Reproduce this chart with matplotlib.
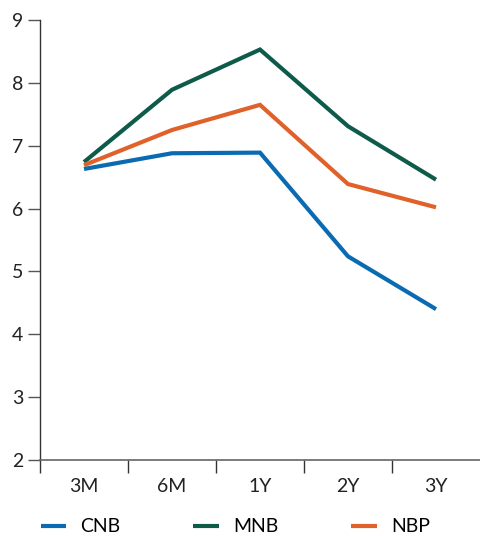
import matplotlib.pyplot as plt

plt.rcParams['font.family'] = ['Lato', 'DejaVu Sans']

tenors = ["3M", "6M", "1Y", "2Y", "3Y"]
cnb = [6.63, 6.88, 6.89, 5.24, 4.40]
mnb = [6.74, 7.89, 8.53, 7.31, 6.46]
nbp = [6.69, 7.25, 7.65, 6.39, 6.02]

colors = {"CNB": "#0a6bb2", "MNB": "#0f5b4a", "NBP": "#e0622a"}

fig = plt.figure(figsize=(4.8, 5.36), dpi=100)
ax = fig.add_axes([40 / 480, 76 / 536, 1 - 40 / 480, 440 / 536])

x = range(len(tenors))
for name, vals in [("CNB", cnb), ("MNB", mnb), ("NBP", nbp)]:
    ax.plot(x, vals, color=colors[name], lw=3, label=name,
            solid_joinstyle="miter", solid_capstyle="butt")

ax.set_ylim(2, 9)
ax.set_xlim(-0.5, len(tenors) - 0.5)
ax.set_yticks(range(2, 10))

# category labels centred, ticks drawn between categories
ax.set_xticks([i - 0.5 for i in range(len(tenors))])
ax.set_xticklabels([])
ax.set_xticks(list(x), minor=True)
ax.set_xticklabels(tenors, minor=True)
ax.tick_params(axis="x", which="minor", length=0, pad=13, labelsize=14, colors="#222222")
ax.tick_params(axis="x", which="major", length=9, width=1, color="#333333", direction="out")
ax.tick_params(axis="y", length=9, width=1, color="#555555", pad=3, labelsize=14, labelcolor="#222222")

for s in ["top", "right"]:
    ax.spines[s].set_visible(False)
ax.spines["left"].set_color("#333333")
ax.spines["bottom"].set_color("#666666")
ax.spines["left"].set_linewidth(1)
ax.spines["bottom"].set_linewidth(1.2)

fig.legend(loc="center left", bbox_to_anchor=(23 / 480, 9 / 536), ncol=3, frameon=False,
           fontsize=14, handlelength=1.3, handletextpad=0.75, columnspacing=3.75)

fig.savefig("out.png", dpi=100)
plt.close(fig)
